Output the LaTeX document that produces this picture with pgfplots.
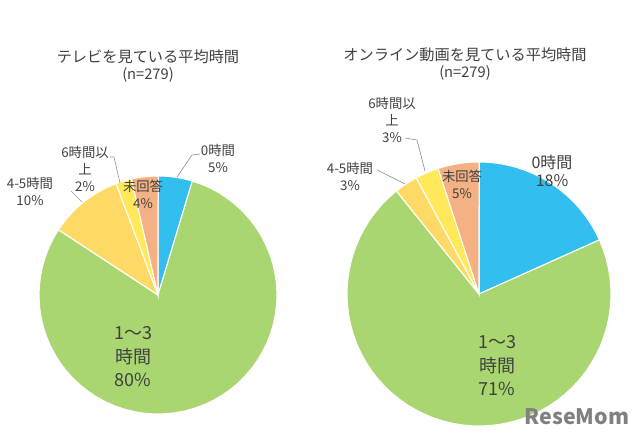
\documentclass[border=0pt]{standalone}
\usepackage{pgfplots}
\pgfplotsset{compat=1.18}
\usepackage{fontspec}
\setmainfont{Noto Sans CJK JP}
\definecolor{cBlue}{RGB}{51,190,240}
\definecolor{cGreen}{RGB}{169,214,112}
\definecolor{cGold}{RGB}{255,217,102}
\definecolor{cYellow}{RGB}{255,233,90}
\definecolor{cSalmon}{RGB}{244,177,131}
\definecolor{cText}{RGB}{64,64,64}
\definecolor{cLine}{RGB}{150,150,150}
% counts (n=279), clockwise from 12 o'clock:
% 0h, 1-3h, 4-5h, 6h+, no answer
% TV:     13, 222, 28, 6, 10
% Online: 51, 198,  8, 8, 14
\pgfplotsset{pieax/.style={hide axis, clip=false, anchor=origin,
  xmin=-1,xmax=1,ymin=-1,ymax=1, samples=60,
  every axis plot/.append style={draw=white, line width=0.8pt}}}
\begin{document}
\begin{tikzpicture}
\path[use as bounding box] (0,0) rectangle (480pt,329.25pt);
% left pie
\begin{axis}[pieax, at={(118.5pt,108pt)}, x=89.25pt, y=89.25pt]
\addplot[fill=cBlue, domain={90-360*13/279}:90] ({cos(x)},{sin(x)}) -- (axis cs:0,0) -- cycle;
\addplot[fill=cGreen, domain={90-360*235/279}:{90-360*13/279}] ({cos(x)},{sin(x)}) -- (axis cs:0,0) -- cycle;
\addplot[fill=cGold, domain={90-360*263/279}:{90-360*235/279}] ({cos(x)},{sin(x)}) -- (axis cs:0,0) -- cycle;
\addplot[fill=cYellow, domain={90-360*269/279}:{90-360*263/279}] ({cos(x)},{sin(x)}) -- (axis cs:0,0) -- cycle;
\addplot[fill=cSalmon, domain={90-360*279/279}:{90-360*269/279}] ({cos(x)},{sin(x)}) -- (axis cs:0,0) -- cycle;
\end{axis}
% right pie
\begin{axis}[pieax, at={(359.25pt,108.75pt)}, x=99pt, y=99pt]
\addplot[fill=cBlue, domain={90-360*51/279}:90] ({cos(x)},{sin(x)}) -- (axis cs:0,0) -- cycle;
\addplot[fill=cGreen, domain={90-360*249/279}:{90-360*51/279}] ({cos(x)},{sin(x)}) -- (axis cs:0,0) -- cycle;
\addplot[fill=cGold, domain={90-360*257/279}:{90-360*249/279}] ({cos(x)},{sin(x)}) -- (axis cs:0,0) -- cycle;
\addplot[fill=cYellow, domain={90-360*265/279}:{90-360*257/279}] ({cos(x)},{sin(x)}) -- (axis cs:0,0) -- cycle;
\addplot[fill=cSalmon, domain={90-360*279/279}:{90-360*265/279}] ({cos(x)},{sin(x)}) -- (axis cs:0,0) -- cycle;
\end{axis}
% titles
\node[text=cText, font=\fontsize{11.4pt}{13pt}\selectfont] at (111pt,286.5pt) {テレビを見ている平均時間};
\node[text=cText, font=\fontsize{11pt}{13pt}\selectfont] at (111pt,273pt) {(n=279)};
\node[text=cText, font=\fontsize{11.4pt}{13pt}\selectfont] at (348.75pt,288pt) {オンライン動画を見ている平均時間};
\node[text=cText, font=\fontsize{11pt}{13pt}\selectfont] at (348.75pt,274.5pt) {(n=279)};
% leader lines
\draw[cLine, line width=0.5pt] (150pt,213.75pt) -- (144pt,213pt) -- (132.75pt,196.5pt);
\draw[cLine, line width=0.5pt] (53.25pt,186pt) -- (61.5pt,177.75pt);
\draw[cLine, line width=0.5pt] (82.5pt,211.5pt) -- (85.5pt,211.5pt) -- (90pt,192pt);
\draw[cLine, line width=0.5pt] (303.75pt,225.75pt) -- (312.75pt,224.25pt) -- (318.75pt,201pt);
\draw[cLine, line width=0.5pt] (282.75pt,201.75pt) -- (303.75pt,191.25pt);
% left labels
\tikzset{lab/.style={text=cText, align=center, inner sep=0pt, font=\fontsize{10pt}{12.75pt}\selectfont}}
\node[lab] at (163.5pt,210.75pt) {0時間\\5\%};
\node[lab] at (107.25pt,183.75pt) {未回答\\4\%};
\node[lab] at (63.75pt,202.5pt) {6時間以\\上\\2\%};
\node[lab] at (22.5pt,186pt) {4-5時間\\10\%};
\node[lab, font=\fontsize{13.5pt}{17.6pt}\selectfont] at (99.75pt,61.5pt) {1〜3\\時間\\80\%};
% right labels
\node[lab, font=\fontsize{12pt}{13.5pt}\selectfont] at (414pt,201pt) {0時間\\18\%};
\node[lab] at (346.5pt,191.25pt) {未回答\\5\%};
\node[lab] at (294pt,239.25pt) {6時間以\\上\\3\%};
\node[lab] at (262.5pt,197.25pt) {4-5時間\\3\%};
\node[lab, font=\fontsize{13.5pt}{17.6pt}\selectfont] at (372.75pt,54.75pt) {1〜3\\時間\\71\%};
% watermark
\node[text=gray, font=\fontsize{16pt}{18pt}\selectfont\bfseries] at (432.75pt,16.5pt) {ReseMom};
\end{tikzpicture}
\end{document}
